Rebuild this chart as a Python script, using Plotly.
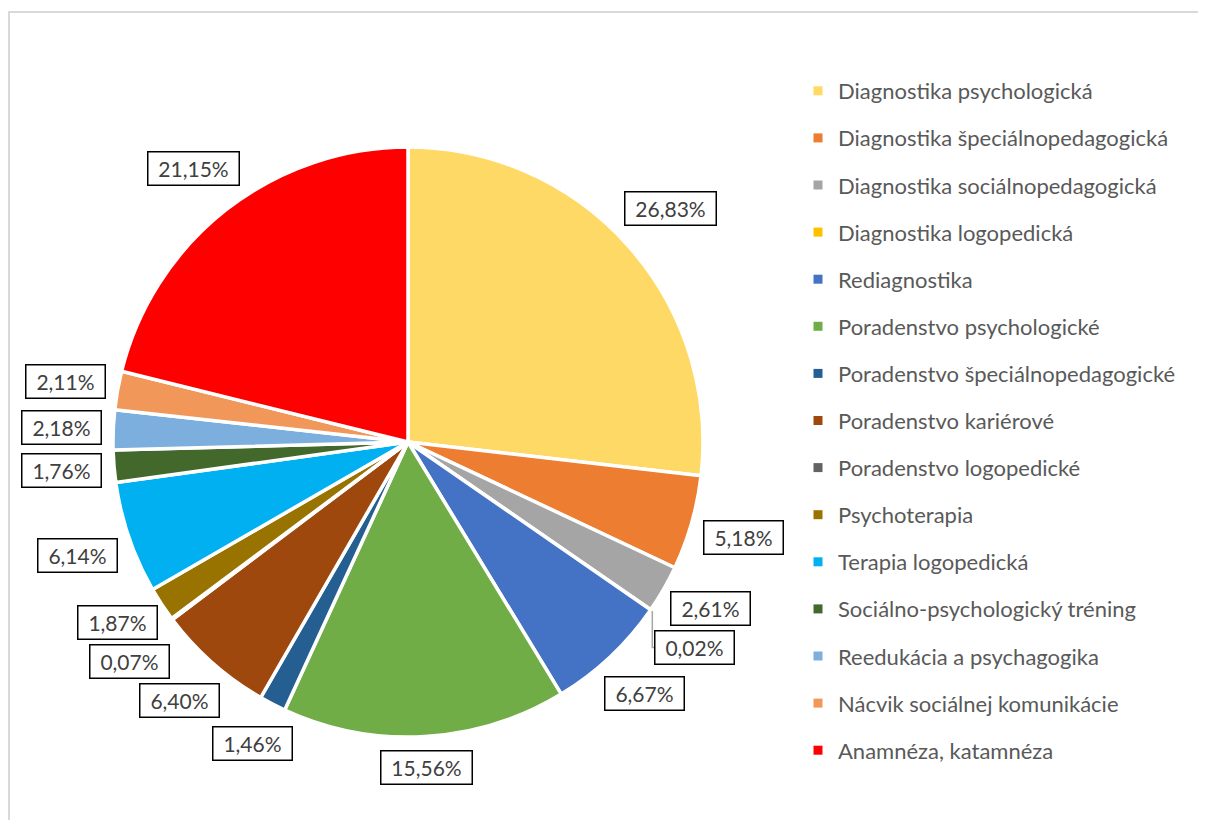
import math
import plotly.graph_objects as go

categories = [
    "Diagnostika psychologická",
    "Diagnostika špeciálnopedagogická",
    "Diagnostika sociálnopedagogická",
    "Diagnostika logopedická",
    "Rediagnostika",
    "Poradenstvo psychologické",
    "Poradenstvo špeciálnopedagogické",
    "Poradenstvo kariérové",
    "Poradenstvo logopedické",
    "Psychoterapia",
    "Terapia logopedická",
    "Sociálno-psychologický tréning",
    "Reedukácia a psychagogika",
    "Nácvik sociálnej komunikácie",
    "Anamnéza, katamnéza",
]
values = [26.83, 5.18, 2.61, 0.02, 6.67, 15.56, 1.46, 6.40, 0.07, 1.87, 6.14, 1.76, 2.18, 2.11, 21.15]
colors = ["#FFD966", "#ED7D31", "#A5A5A5", "#FFC000", "#4472C4", "#70AD47", "#255E91",
          "#9E480E", "#636363", "#997300", "#00B0F0", "#43682B", "#7CAFDD", "#F1975A", "#FF0000"]
leader_labels = ["Diagnostika logopedická"]

OFF = 8  # page body margin in the browser
W, H = 1206 - 2 * OFF, 828 - 2 * OFF  # figure size so the page does not scroll
CX, CY, R = 408, 442, 295  # screen-space pie centre / radius
FONT = "Lato, 'Open Sans', sans-serif"


def px(x):
    return (x - OFF) / W


def py(y):
    return 1 - (y - OFF) / H


fig = go.Figure()
fig.add_trace(go.Pie(
    labels=categories, values=values, sort=False, direction="clockwise", rotation=0,
    marker=dict(colors=colors, line=dict(color="white", width=3.5)),
    textinfo="none", showlegend=False, hoverinfo="label+value",
    domain=dict(x=[px(CX - R), px(CX + R)], y=[py(CY + R), py(CY - R)]),
))

# legend via dummy traces to control spacing
for cat, col in zip(categories, colors):
    fig.add_trace(go.Scatter(x=[None], y=[None], mode="markers", name=cat, legendgroup=cat,
                             marker=dict(symbol="square", size=9, color=col), showlegend=True))

# label placement computed from data
total = sum(values)
texts = [f"{v:.2f}".replace(".", ",") + "%" for v in values]
labels = []
cum = 0.0
BH = 32
for cat, v, t in zip(categories, values, texts):
    th = math.radians(360 * (cum + v / 2) / total)
    cum += v
    bw = 12 * len(t) + 18
    s, c = math.sin(th), math.cos(th)
    half = abs(s) * bw / 2 + abs(c) * BH / 2
    r = R + 12 + half
    labels.append(dict(cat=cat, t=t, th=th, w=bw, x=CX + r * s, y=CY - r * c))

# resolve vertical overlaps
for _ in range(50):
    moved = False
    for i in range(len(labels)):
        for j in range(i + 1, len(labels)):
            a, b = labels[i], labels[j]
            if abs(a["x"] - b["x"]) < (a["w"] + b["w"]) / 2 - 20 and abs(a["y"] - b["y"]) < BH + 6:
                need = (BH + 6 - abs(a["y"] - b["y"])) / 2 + 0.5
                if a["y"] <= b["y"]:
                    a["y"] -= need; b["y"] += need
                else:
                    a["y"] += need; b["y"] -= need
                moved = True
    if not moved:
        break

for L in labels:
    fig.add_annotation(x=px(L["x"]), y=py(L["y"]), xref="paper", yref="paper",
                       text=L["t"], showarrow=False, width=L["w"], height=BH,
                       font=dict(family=FONT, size=21, color="#404040"),
                       bordercolor="black", borderwidth=1.5, borderpad=0, bgcolor="white",
                       xanchor="center", yanchor="middle")
    if L["cat"] in leader_labels:
        x0 = CX + (R + 2) * math.sin(L["th"])
        y0 = CY - (R + 2) * math.cos(L["th"])
        xe = L["x"] - L["w"] / 2
        path = f"M {px(x0)} {py(y0)} L {px(x0)} {py(L['y'])} L {px(xe)} {py(L['y'])}"
        fig.add_shape(type="path", path=path, xref="paper", yref="paper",
                      line=dict(color="#A6A6A6", width=1.5))

# outer chart border
fig.add_shape(type="rect", xref="paper", yref="paper", x0=1 / W, y0=-0.05, x1=1.05, y1=py(12),
              line=dict(color="#D9D9D9", width=2), fillcolor="rgba(0,0,0,0)", layer="below")

fig.update_layout(
    width=W, height=H, margin=dict(l=0, r=0, t=0, b=0),
    paper_bgcolor="white", plot_bgcolor="white",
    xaxis=dict(visible=False), yaxis=dict(visible=False),
    showlegend=True,
    legend=dict(x=px(798), y=py(70), xanchor="left", yanchor="top",
                font=dict(family=FONT, size=22, color="#595959"),
                tracegroupgap=15.5, bgcolor="rgba(0,0,0,0)", itemsizing="trace"),
    font=dict(family=FONT),
)

fig.write_html("out.html")
